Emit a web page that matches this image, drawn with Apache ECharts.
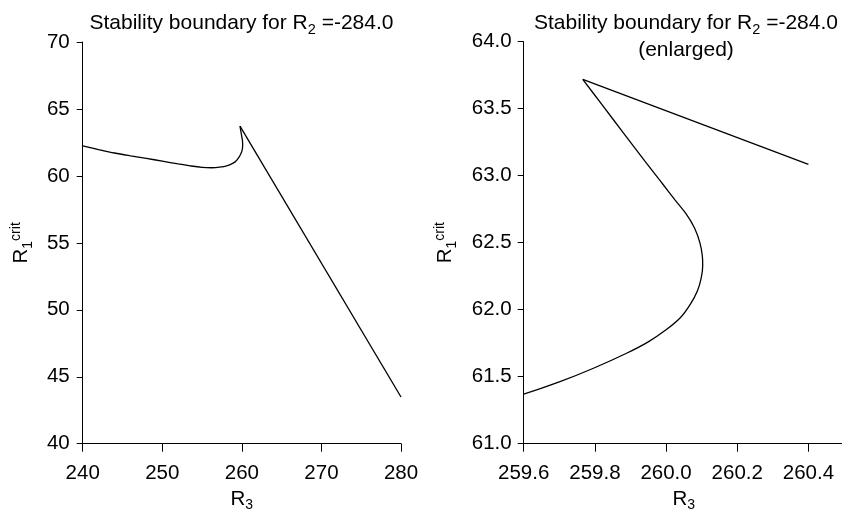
<!DOCTYPE html>
<html>
<head>
<meta charset="utf-8">
<script src="https://cdn.jsdelivr.net/npm/echarts@6/dist/echarts.min.js"></script>
<style>
html,body{margin:0;padding:0;background:#fff;}
#chart{width:842px;height:510px;}
</style>
</head>
<body>
<div id="chart"></div>
<script>
// Curved part of the stability boundary: R3 (x) and R1crit (y), ending at the cusp
var curveR3 = [240, 242, 244, 246, 248, 250, 252, 253.5, 255, 256.2, 257.2, 258.2, 258.9, 259.3, 259.6,
  259.702, 259.796, 259.889, 259.95, 260.0, 260.04, 260.068, 260.088, 260.099, 260.103,
  260.102, 260.095, 260.08, 260.055, 260.025, 259.99, 259.94, 259.88, 259.82, 259.766];
var curveR1 = [62.25, 61.97, 61.71, 61.50, 61.31, 61.10, 60.89, 60.75, 60.64, 60.61, 60.65, 60.77, 60.95, 61.13, 61.37,
  61.463, 61.563, 61.675, 61.76, 61.85, 61.94, 62.04, 62.14, 62.24, 62.33,
  62.40, 62.50, 62.61, 62.72, 62.82, 62.94, 63.11, 63.32, 63.53, 63.719];
// Straight branch from the cusp: end point in the full view and in the enlarged view
var lineEndR3 = [280];
var lineEndR1 = [43.485];
var zoomEndR3 = [260.4];
var zoomEndR1 = [63.085];
var leftXTicks = [240, 250, 260, 270, 280];
var leftYTicks = [40, 45, 50, 55, 60, 65, 70];
var rightXTicks = [259.6, 259.8, 260.0, 260.2, 260.4];
var rightYTicks = [61.0, 61.5, 62.0, 62.5, 63.0, 63.5, 64.0];
var titleText = 'Stability boundary for R';
var titleSub = '2';
var titleTail = ' =-284.0';
var titleLine2 = '(enlarged)';

var FONT = '"Liberation Sans", Arial, Helvetica, sans-serif';
var curvePts = curveR3.map(function (x, i) { return [x, curveR1[i]]; });
var cusp = curvePts[curvePts.length - 1];
var leftLine = [cusp].concat(lineEndR3.map(function (x, i) { return [x, lineEndR1[i]]; }));
var rightLine = [cusp].concat(zoomEndR3.map(function (x, i) { return [x, zoomEndR1[i]]; }));

var richName = {
  r: { fontSize: 20.5, fontFamily: FONT, color: '#000', lineHeight: 26 },
  sub: { fontSize: 14, fontFamily: FONT, color: '#000', verticalAlign: 'bottom', lineHeight: 13 },
  sup: { fontSize: 14, fontFamily: FONT, color: '#000', verticalAlign: 'top', lineHeight: 14 }
};
var richTitle = {
  t: { fontSize: 21, fontFamily: FONT, fill: '#000', lineHeight: 27 },
  s: { fontSize: 14.5, fontFamily: FONT, fill: '#000', verticalAlign: 'bottom', lineHeight: 13 }
};
var axisLineStyle = { show: true, onZero: false, lineStyle: { color: '#000', width: 1 } };
var labelStyle = { color: '#000', fontSize: 20.5, fontFamily: FONT };
function lbl(extra) { return Object.assign({}, labelStyle, extra); }
var lineSty = { color: '#000', width: 1.3 };

var chart = echarts.init(document.getElementById('chart'), null, { renderer: 'canvas' });
chart.setOption({
  backgroundColor: '#fff',
  animation: false,
  graphic: [
    { type: 'text', x: 241.5, y: 10, style: {
      text: '{t|' + titleText + '}{s|' + titleSub + '}{t|' + titleTail + '}',
      align: 'center', verticalAlign: 'top', rich: richTitle } },
    { type: 'text', x: 686, y: 10, style: {
      text: '{t|' + titleText + '}{s|' + titleSub + '}{t|' + titleTail + '}\n{t|' + titleLine2 + '}',
      align: 'center', verticalAlign: 'top', rich: richTitle } }
  ],
  grid: [
    { left: 82.7, right: 441, top: 42, bottom: 66.3, containLabel: false, outerBoundsMode: 'none' },
    { left: 523.7, right: -2, top: 41.7, bottom: 66.3, containLabel: false, outerBoundsMode: 'none' }
  ],
  xAxis: [
    { type: 'value', gridIndex: 0, min: 240, max: 280, interval: 10,
      axisLine: axisLineStyle, splitLine: { show: false },
      axisTick: { show: true, length: 8, lineStyle: { color: '#000' }, customValues: leftXTicks },
      axisLabel: lbl({ margin: 19, customValues: leftXTicks }),
      name: '{r|R}{sub|3}', nameLocation: 'middle', nameGap: 41, nameTextStyle: { rich: richName } },
    { type: 'value', gridIndex: 1, min: 259.6, max: 260.5,
      axisLine: axisLineStyle, splitLine: { show: false },
      axisTick: { show: true, length: 8, lineStyle: { color: '#000' }, customValues: rightXTicks },
      axisLabel: lbl({ margin: 19, customValues: rightXTicks, formatter: function (v) { return v.toFixed(1); } }),
      name: '{r|R}{sub|3}', nameLocation: 'middle', nameGap: 41, nameTextStyle: { rich: richName } }
  ],
  yAxis: [
    { type: 'value', gridIndex: 0, min: 40, max: 70, interval: 5,
      axisLine: axisLineStyle, splitLine: { show: false },
      axisTick: { show: true, length: 6, lineStyle: { color: '#000' }, customValues: leftYTicks },
      axisLabel: lbl({ margin: 13, customValues: leftYTicks }),
      name: '{r|R}{sub|1}{sup|crit}', nameLocation: 'middle', nameGap: 48, nameRotate: 90,
      nameTextStyle: { rich: richName } },
    { type: 'value', gridIndex: 1, min: 61, max: 64, interval: 0.5,
      axisLine: axisLineStyle, splitLine: { show: false },
      axisTick: { show: true, length: 6, lineStyle: { color: '#000' }, customValues: rightYTicks },
      axisLabel: lbl({ margin: 12, customValues: rightYTicks, formatter: function (v) { return v.toFixed(1); } }),
      name: '{r|R}{sub|1}{sup|crit}', nameLocation: 'middle', nameGap: 65, nameRotate: 90,
      nameTextStyle: { rich: richName } }
  ],
  series: [
    { type: 'line', xAxisIndex: 0, yAxisIndex: 0, data: curvePts, symbol: 'none', smooth: 0.35,
      lineStyle: lineSty, clip: true, silent: true },
    { type: 'line', xAxisIndex: 0, yAxisIndex: 0, data: leftLine, symbol: 'none',
      lineStyle: lineSty, clip: true, silent: true },
    { type: 'line', xAxisIndex: 1, yAxisIndex: 1, data: curvePts, symbol: 'none', smooth: 0.35,
      lineStyle: lineSty, clip: true, silent: true },
    { type: 'line', xAxisIndex: 1, yAxisIndex: 1, data: rightLine, symbol: 'none',
      lineStyle: lineSty, clip: true, silent: true }
  ]
});
</script>
</body>
</html>
